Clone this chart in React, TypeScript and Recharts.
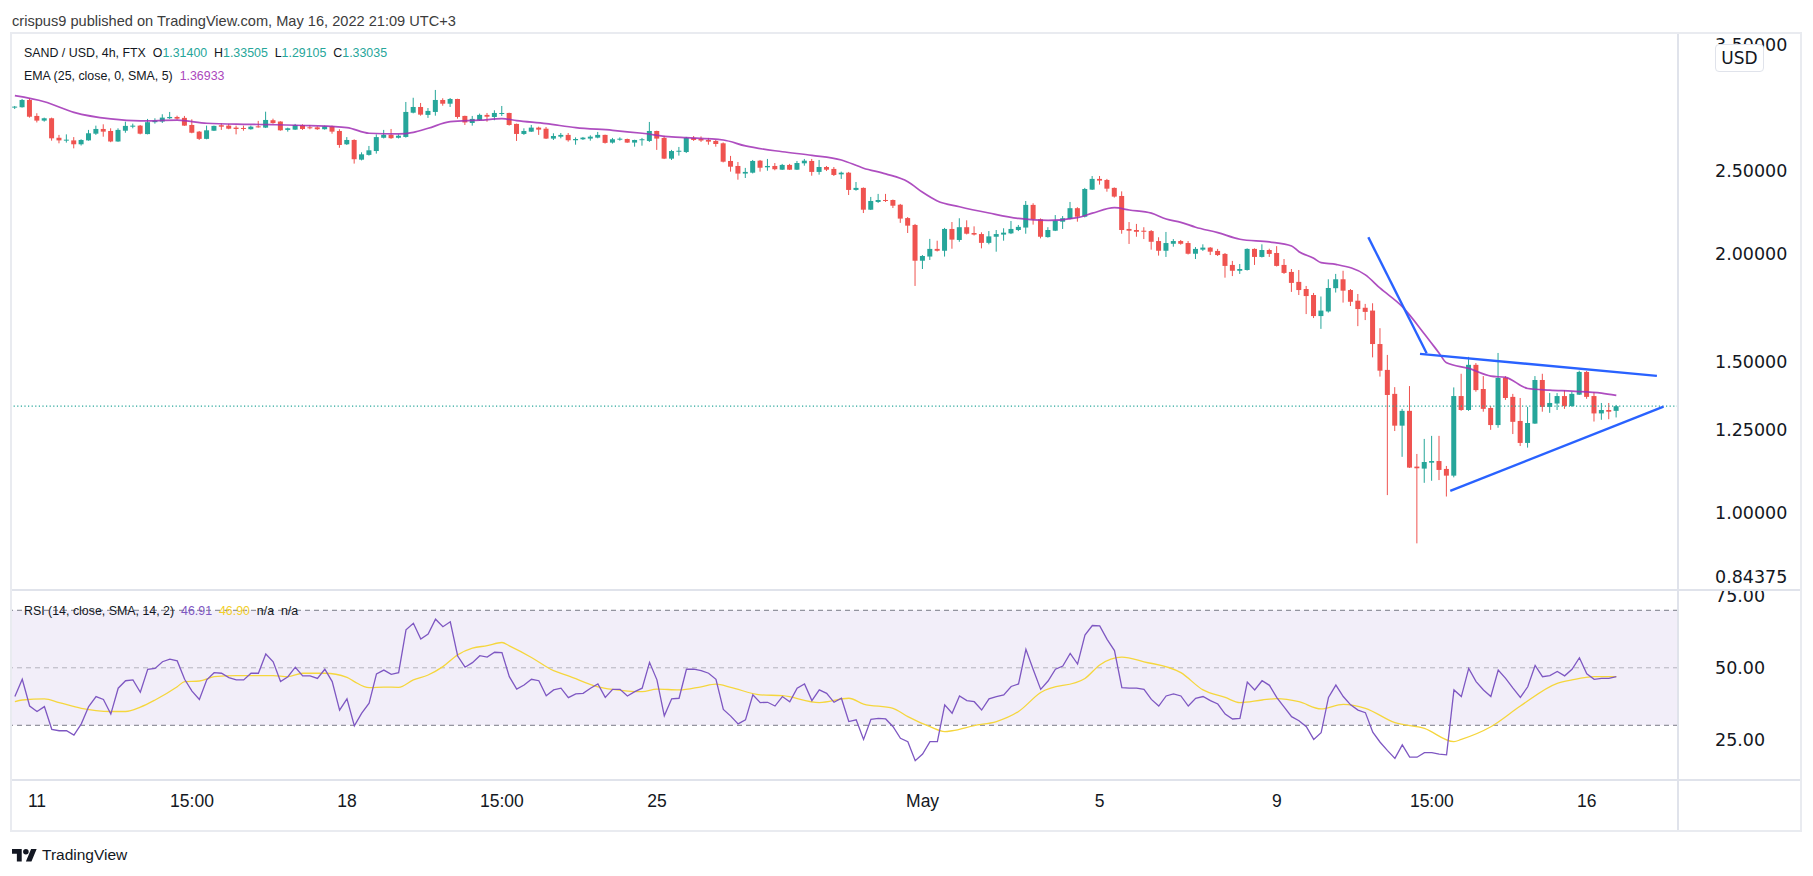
import React from 'react';
import { ComposedChart, Bar, Line, XAxis, YAxis, ReferenceLine, ReferenceArea } from 'recharts';

// ---------- data (4h candles, index 0 = Apr 11 00:00) ----------
const FIRST_BAR = -3;
const opens = [
  2.956, 2.959, 3.017, 2.891, 2.855, 2.873, 2.727, 2.706, 2.708, 2.680,
  2.708, 2.757, 2.792, 2.777, 2.700, 2.779, 2.809, 2.817, 2.754, 2.843,
  2.848, 2.873, 2.883, 2.876, 2.822, 2.772, 2.719, 2.779, 2.820, 2.817,
  2.802, 2.797, 2.790, 2.809, 2.802, 2.858, 2.848, 2.785, 2.787, 2.822,
  2.804, 2.804, 2.790, 2.812, 2.777, 2.680, 2.711, 2.572, 2.605, 2.632,
  2.727, 2.749, 2.727, 2.733, 2.916, 2.961, 2.899, 2.922, 3.017, 2.987,
  3.025, 2.891, 2.837, 2.858, 2.899, 2.883, 2.906, 2.914, 2.830, 2.755,
  2.772, 2.802, 2.794, 2.721, 2.735, 2.748, 2.709, 2.716, 2.721, 2.728,
  2.748, 2.692, 2.713, 2.718, 2.692, 2.709, 2.704, 2.777, 2.726, 2.579,
  2.627, 2.625, 2.726, 2.718, 2.711, 2.704, 2.687, 2.563, 2.529, 2.478,
  2.484, 2.565, 2.520, 2.529, 2.504, 2.536, 2.504, 2.547, 2.563, 2.489,
  2.522, 2.509, 2.473, 2.484, 2.372, 2.385, 2.250, 2.297, 2.309, 2.309,
  2.280, 2.200, 2.160, 1.963, 1.985, 2.026, 2.016, 2.137, 2.075, 2.147,
  2.114, 2.108, 2.059, 2.093, 2.105, 2.112, 2.131, 2.145, 2.279, 2.193,
  2.091, 2.127, 2.179, 2.195, 2.259, 2.208, 2.374, 2.443, 2.436, 2.385,
  2.334, 2.137, 2.131, 2.127, 2.125, 2.069, 2.016, 2.054, 2.069, 2.058,
  2.000, 2.022, 2.033, 2.015, 1.999, 1.941, 1.911, 1.915, 2.026, 1.983,
  2.020, 2.004, 1.941, 1.905, 1.855, 1.820, 1.791, 1.693, 1.714, 1.824,
  1.868, 1.815, 1.764, 1.731, 1.718, 1.571, 1.466, 1.375, 1.263, 1.314,
  1.132, 1.126, 1.144, 1.149, 1.125, 1.105, 1.367, 1.317, 1.486, 1.393,
  1.324, 1.265, 1.435, 1.364, 1.279, 1.206, 1.270, 1.427, 1.328, 1.340,
  1.367, 1.331, 1.372, 1.458, 1.367, 1.305, 1.317, 1.314,
];
const highs = [
  2.969, 3.025, 3.031, 2.912, 2.878, 2.878, 2.748, 2.752, 2.732, 2.716,
  2.785, 2.817, 2.827, 2.797, 2.797, 2.847, 2.832, 2.822, 2.868, 2.873,
  2.904, 2.922, 2.893, 2.891, 2.865, 2.777, 2.817, 2.817, 2.835, 2.830,
  2.817, 2.817, 2.817, 2.853, 2.924, 2.870, 2.850, 2.802, 2.830, 2.827,
  2.822, 2.812, 2.817, 2.817, 2.790, 2.732, 2.716, 2.623, 2.668, 2.752,
  2.785, 2.792, 2.752, 3.001, 3.035, 2.993, 2.953, 3.099, 3.031, 3.033,
  3.027, 2.893, 2.891, 2.909, 2.914, 2.935, 2.969, 2.916, 2.832, 2.797,
  2.822, 2.809, 2.807, 2.760, 2.762, 2.762, 2.730, 2.733, 2.745, 2.770,
  2.750, 2.726, 2.730, 2.721, 2.713, 2.726, 2.845, 2.779, 2.742, 2.640,
  2.661, 2.733, 2.740, 2.737, 2.726, 2.711, 2.693, 2.598, 2.556, 2.516,
  2.570, 2.570, 2.577, 2.549, 2.543, 2.543, 2.563, 2.577, 2.577, 2.570,
  2.529, 2.522, 2.491, 2.489, 2.423, 2.388, 2.328, 2.347, 2.347, 2.312,
  2.285, 2.206, 2.166, 1.993, 2.081, 2.071, 2.143, 2.177, 2.199, 2.187,
  2.152, 2.118, 2.125, 2.131, 2.141, 2.183, 2.160, 2.303, 2.289, 2.198,
  2.147, 2.218, 2.212, 2.297, 2.265, 2.385, 2.462, 2.462, 2.443, 2.388,
  2.363, 2.177, 2.166, 2.147, 2.131, 2.090, 2.120, 2.080, 2.075, 2.069,
  2.036, 2.051, 2.036, 2.026, 2.004, 1.962, 1.946, 2.029, 2.029, 2.051,
  2.027, 2.041, 1.972, 1.920, 1.915, 1.835, 1.801, 1.784, 1.868, 1.895,
  1.911, 1.820, 1.796, 1.749, 1.752, 1.639, 1.526, 1.400, 1.321, 1.404,
  1.171, 1.219, 1.229, 1.229, 1.134, 1.399, 1.451, 1.518, 1.493, 1.442,
  1.331, 1.534, 1.442, 1.375, 1.360, 1.328, 1.442, 1.451, 1.378, 1.378,
  1.389, 1.382, 1.463, 1.462, 1.382, 1.342, 1.342, 1.33505,
];
const lows = [
  2.945, 2.956, 2.878, 2.841, 2.847, 2.706, 2.687, 2.692, 2.651, 2.671,
  2.706, 2.748, 2.735, 2.695, 2.698, 2.764, 2.797, 2.752, 2.752, 2.832,
  2.837, 2.868, 2.862, 2.815, 2.760, 2.711, 2.716, 2.777, 2.785, 2.790,
  2.752, 2.779, 2.787, 2.802, 2.799, 2.832, 2.779, 2.772, 2.785, 2.785,
  2.790, 2.785, 2.787, 2.757, 2.655, 2.675, 2.545, 2.567, 2.600, 2.614,
  2.722, 2.719, 2.722, 2.728, 2.911, 2.893, 2.876, 2.893, 2.971, 2.961,
  2.870, 2.822, 2.817, 2.853, 2.847, 2.858, 2.891, 2.817, 2.704, 2.748,
  2.770, 2.748, 2.718, 2.711, 2.723, 2.699, 2.677, 2.711, 2.706, 2.723,
  2.685, 2.685, 2.706, 2.690, 2.663, 2.670, 2.697, 2.640, 2.576, 2.570,
  2.600, 2.618, 2.704, 2.697, 2.677, 2.663, 2.553, 2.491, 2.438, 2.449,
  2.479, 2.491, 2.497, 2.500, 2.502, 2.502, 2.502, 2.531, 2.464, 2.471,
  2.495, 2.462, 2.443, 2.340, 2.367, 2.230, 2.248, 2.291, 2.297, 2.260,
  2.172, 2.114, 1.835, 1.920, 1.967, 2.012, 1.985, 2.027, 2.065, 2.106,
  2.100, 2.029, 2.051, 2.011, 2.071, 2.108, 2.125, 2.110, 2.162, 2.084,
  2.088, 2.125, 2.137, 2.192, 2.179, 2.204, 2.372, 2.406, 2.361, 2.324,
  2.110, 2.053, 2.093, 2.080, 2.022, 1.990, 1.983, 2.038, 2.049, 1.996,
  1.972, 2.015, 1.993, 1.988, 1.876, 1.884, 1.895, 1.912, 1.941, 1.980,
  1.983, 1.933, 1.895, 1.806, 1.791, 1.702, 1.684, 1.636, 1.709, 1.803,
  1.755, 1.739, 1.648, 1.675, 1.516, 1.440, 1.049, 1.245, 1.162, 1.128,
  0.922, 1.084, 1.090, 1.092, 1.045, 1.100, 1.314, 1.314, 1.383, 1.311,
  1.249, 1.256, 1.353, 1.235, 1.196, 1.191, 1.269, 1.311, 1.307, 1.317,
  1.321, 1.328, 1.371, 1.357, 1.277, 1.283, 1.285, 1.29105,
];
const closes = [
  2.959, 3.017, 2.885, 2.855, 2.873, 2.723, 2.708, 2.711, 2.680, 2.711,
  2.760, 2.792, 2.772, 2.700, 2.785, 2.815, 2.817, 2.757, 2.843, 2.855,
  2.878, 2.883, 2.870, 2.817, 2.764, 2.719, 2.782, 2.815, 2.809, 2.794,
  2.792, 2.792, 2.809, 2.804, 2.860, 2.837, 2.782, 2.797, 2.822, 2.792,
  2.797, 2.790, 2.812, 2.772, 2.675, 2.711, 2.575, 2.609, 2.637, 2.732,
  2.749, 2.724, 2.742, 2.922, 2.961, 2.901, 2.930, 3.017, 2.987, 3.025,
  2.883, 2.841, 2.868, 2.899, 2.885, 2.914, 2.911, 2.822, 2.755, 2.777,
  2.802, 2.787, 2.721, 2.740, 2.748, 2.709, 2.718, 2.728, 2.735, 2.748,
  2.690, 2.716, 2.718, 2.692, 2.711, 2.713, 2.777, 2.721, 2.579, 2.632,
  2.632, 2.726, 2.711, 2.707, 2.699, 2.682, 2.558, 2.524, 2.478, 2.489,
  2.563, 2.517, 2.529, 2.507, 2.536, 2.504, 2.549, 2.565, 2.489, 2.522,
  2.504, 2.469, 2.484, 2.372, 2.385, 2.250, 2.303, 2.309, 2.303, 2.274,
  2.197, 2.156, 1.963, 1.988, 2.026, 2.016, 2.137, 2.077, 2.147, 2.110,
  2.105, 2.059, 2.095, 2.108, 2.116, 2.137, 2.149, 2.279, 2.193, 2.093,
  2.131, 2.185, 2.199, 2.259, 2.208, 2.378, 2.443, 2.432, 2.380, 2.330,
  2.131, 2.127, 2.121, 2.121, 2.065, 2.016, 2.058, 2.069, 2.054, 2.000,
  2.026, 2.033, 2.011, 1.993, 1.936, 1.911, 1.920, 2.026, 1.983, 2.020,
  1.999, 1.936, 1.900, 1.850, 1.815, 1.786, 1.693, 1.718, 1.825, 1.868,
  1.812, 1.759, 1.725, 1.712, 1.571, 1.463, 1.371, 1.263, 1.314, 1.129,
  1.127, 1.146, 1.149, 1.122, 1.105, 1.367, 1.317, 1.486, 1.389, 1.321,
  1.265, 1.435, 1.360, 1.276, 1.206, 1.272, 1.427, 1.328, 1.342, 1.367,
  1.331, 1.375, 1.458, 1.364, 1.305, 1.317, 1.311, 1.33035,
];
const rsiValues = [
  40.0, 46.0, 36.7, 34.8, 36.5, 28.6, 28.1, 28.1, 26.6, 30.5,
  36.5, 40.0, 39.0, 33.9, 42.9, 45.5, 45.8, 41.5, 49.5, 49.8,
  52.1, 53.0, 52.4, 46.0, 41.9, 39.0, 45.8, 48.3, 48.1, 46.6,
  45.8, 45.8, 48.1, 48.1, 54.8, 52.1, 45.2, 46.9, 50.2, 47.2,
  47.2, 46.3, 49.5, 45.2, 35.3, 39.2, 29.8, 34.2, 37.7, 47.9,
  49.2, 47.7, 48.3, 63.2, 65.5, 60.0, 61.7, 66.9, 64.3, 66.0,
  54.1, 50.2, 51.8, 54.2, 53.7, 55.4, 55.3, 46.9, 42.6, 44.0,
  46.0, 45.5, 40.3, 42.3, 42.9, 39.6, 40.9, 41.1, 42.9, 44.4,
  39.7, 42.5, 42.5, 40.2, 41.7, 42.9, 51.9, 45.8, 33.3, 39.2,
  39.4, 49.5, 49.5, 49.0, 48.1, 46.0, 35.5, 33.2, 30.5, 31.9,
  40.6, 37.9, 38.0, 36.7, 40.0, 38.2, 42.9, 44.4, 38.6, 42.3,
  41.1, 38.0, 39.4, 31.3, 31.9, 25.1, 32.1, 32.4, 32.2, 29.5,
  25.5, 24.3, 17.7, 20.0, 24.3, 24.3, 37.1, 34.2, 40.2, 38.6,
  38.2, 35.3, 39.2, 40.0, 40.6, 43.5, 44.4, 56.4, 49.3, 42.5,
  45.4, 49.5, 50.6, 55.0, 51.3, 61.4, 64.7, 64.6, 59.9, 56.0,
  43.1, 42.9, 42.9, 42.5, 39.0, 36.7, 40.2, 40.9, 40.2, 36.7,
  39.4, 40.0, 38.6, 37.4, 33.9, 32.2, 32.4, 45.0, 42.3, 45.5,
  43.9, 39.6, 36.3, 33.0, 31.6, 29.5, 25.1, 27.4, 39.7, 44.0,
  40.0, 37.1, 35.3, 34.4, 27.6, 24.1, 21.2, 18.5, 23.2, 18.9,
  18.9, 20.5, 20.5, 20.0, 19.7, 42.3, 40.0, 49.8, 45.2, 42.3,
  40.0, 49.2, 46.3, 42.9, 39.7, 43.4, 50.8, 46.9, 47.3, 48.7,
  47.2, 49.5, 53.5, 47.9, 46.0, 46.3, 46.3, 46.91,
];
// EMA(25) read at selected candles
const emaAt = [
  -3, 1, 5, 10, 14, 19, 23, 28, 32, 37, 42, 45, 49, 51, 53, 56, 60, 63, 65, 69,
  73, 78, 82, 86, 88, 93, 96, 101, 105, 109, 112, 115, 118, 120, 122, 125, 129, 133, 137, 141,
  143, 146, 148, 151, 153, 155, 157, 160, 163, 167, 170, 171, 173, 174, 176, 180, 182, 185, 188, 190,
  191, 194, 197, 199, 202, 205, 208, 212, 214,
];
const emaValues = [
  3.052, 3.003, 2.919, 2.868, 2.853, 2.858, 2.835, 2.827, 2.824, 2.817, 2.802, 2.760, 2.755, 2.767, 2.797, 2.847, 2.858, 2.870, 2.855, 2.832,
  2.802, 2.782, 2.760, 2.733, 2.728, 2.711, 2.668, 2.627, 2.602, 2.570, 2.514, 2.476, 2.425, 2.357, 2.303, 2.268, 2.230, 2.198, 2.187, 2.203,
  2.229, 2.262, 2.248, 2.229, 2.195, 2.175, 2.147, 2.116, 2.079, 2.064, 2.042, 2.011, 1.976, 1.953, 1.944, 1.890, 1.824, 1.736, 1.614, 1.533,
  1.494, 1.472, 1.442, 1.437, 1.395, 1.389, 1.385, 1.378, 1.36933,
];
// RSI-based MA read at selected candles
const rsiMaAt = [
  -3, -2, 1, 3, 6, 8, 10, 12, 14, 16, 19, 20, 22, 24, 27, 30, 32, 34, 36, 39,
  42, 43, 45, 47, 49, 51, 53, 55, 57, 59, 61, 63, 64, 67, 70, 72, 76, 78, 82, 84,
  87, 90, 92, 94, 98, 101, 106, 110, 112, 116, 118, 121, 123, 124, 127, 130, 133, 136, 142, 144,
  147, 150, 155, 158, 161, 163, 166, 168, 171, 174, 177, 180, 184, 188, 192, 193, 197, 201, 206, 208,
  211, 214,
];
const rsiMaValues = [
  38.2, 38.8, 39.2, 37.9, 35.9, 35.1, 34.8, 34.8, 36.3, 38.8, 43.4, 45.2, 45.4, 46.9, 47.3, 47.3, 47.3, 46.9, 48.1, 48.1,
  46.7, 45.2, 43.1, 43.3, 43.2, 45.8, 47.5, 50.4, 54.5, 56.8, 57.7, 58.8, 57.6, 53.6, 49.0, 47.2, 43.4, 42.5, 41.7, 42.6,
  42.3, 43.4, 44.3, 43.2, 40.6, 40.3, 37.9, 39.4, 37.4, 35.9, 33.0, 29.5, 27.8, 28.1, 29.9, 31.3, 34.8, 41.4, 46.3, 51.0,
  53.7, 52.1, 48.3, 42.3, 39.7, 37.9, 38.8, 39.3, 38.2, 35.7, 37.3, 35.9, 30.9, 28.9, 24.3, 25.1, 29.5, 36.7, 44.6, 45.8,
  46.9, 46.90,
];
const priceTicks = [0.84375, 1, 1.25, 1.5, 2, 2.5, 3.5];
const rsiTicks = [25, 50, 75];
const rsiBands = [30, 50, 70];
const timeTickAt = [0, 21, 42, 63, 84, 120, 144, 168, 189, 210];
const timeTickLabels = ['11', '15:00', '18', '15:00', '25', 'May', '5', '9', '15:00', '16'];
// drawn trend lines (candle index, price)
const trendFromAt = [180.4, 187.4, 191.5];
const trendFromPrice = [2.09, 1.53, 1.061];
const trendToAt = [188.3, 219.5, 220.4];
const trendToPrice = [1.533, 1.443, 1.329];

const lastOpen = 1.314;
const lastHigh = 1.33505;
const lastLow = 1.29105;
const lastClose = 1.33035;
const lastEma = 1.36933;
const lastRsi = 46.91;
const lastRsiMa = 46.9;

// ---------- derived tables ----------
const candles = opens.map((o, k) => {
  const c = closes[k];
  return {
    i: FIRST_BAR + k,
    o,
    c,
    wick: [lows[k], highs[k]],
    body: [Math.min(o, c), Math.max(o, c)],
    ema: null as number | null,
  };
});
emaAt.forEach((at, j) => {
  candles[at - FIRST_BAR].ema = emaValues[j];
});
const rsiRows = rsiValues.map((v, k) => ({ i: FIRST_BAR + k, rsi: v, ma: null as number | null }));
rsiMaAt.forEach((at, j) => {
  rsiRows[at - FIRST_BAR].ma = rsiMaValues[j];
});

// ---------- styling ----------
const UP = '#26a69a';
const DOWN = '#ef5350';
const TEXT = '#131722';
const GRID = '#e0e3eb';
const X_MIN = -3.39;
const X_MAX = 222.36;
const PRICE_MIN = 0.8139;
const PRICE_MAX = 3.599;
const RSI_MIN = 10.97;
const RSI_MAX = 77.06;
const AXIS_FONT = "'DejaVu Sans', sans-serif";
const UI_FONT = "'Liberation Sans', Arial, sans-serif";
const AXIS_SIZE = 17.5;

const CandleRect = (props: any) => {
  const { x, y, width, height, payload } = props;
  if (x == null || y == null) return null;
  const top = height < 0 ? y + height : y;
  const h = Math.max(Math.abs(height), 1);
  return <rect x={x} y={top} width={width} height={h} fill={payload.c >= payload.o ? UP : DOWN} />;
};

const PriceTick = (props: any) => (
  <text x={props.x} y={props.y} dy="0.36em" textAnchor="start" fontSize={AXIS_SIZE} fontFamily={AXIS_FONT} fill={TEXT}>
    {Number(props.payload.value).toFixed(5)}
  </text>
);
const RsiTick = (props: any) => (
  <text x={props.x} y={props.y} dy="0.36em" textAnchor="start" fontSize={AXIS_SIZE} fontFamily={AXIS_FONT} fill={TEXT}>
    {Number(props.payload.value).toFixed(2)}
  </text>
);
const TimeTick = (props: any) => {
  const k = timeTickAt.indexOf(props.payload.value);
  return (
    <text x={props.x} y={props.y} dy="0.36em" textAnchor="middle" fontSize={17.5} fontFamily={UI_FONT} fill={TEXT}>
      {k >= 0 ? timeTickLabels[k] : ''}
    </text>
  );
};

const abs = (l: number, t: number, extra: React.CSSProperties = {}): React.CSSProperties => ({
  position: 'absolute',
  left: l,
  top: t,
  ...extra,
});

const legendStyle: React.CSSProperties = {
  fontFamily: UI_FONT,
  fontSize: 12.4,
  color: TEXT,
  lineHeight: '18px',
  whiteSpace: 'pre',
};

export default function App() {
  return (
    <div style={{ position: 'relative', width: 1813, height: 876, background: '#ffffff', overflow: 'hidden' }}>
      <style>{'body{margin:0;background:#fff}'}</style>

      {/* header */}
      <div style={abs(12, 11, { fontFamily: UI_FONT, fontSize: 14.6, color: '#3c3c3c', lineHeight: '20px', whiteSpace: 'nowrap' })}>
        crispus9 published on TradingView.com, May 16, 2022 21:09 UTC+3
      </div>

      {/* frame */}
      <div style={abs(10, 32, { width: 1792, height: 800, border: '2px solid #e9ebf0', boxSizing: 'border-box' })} />

      {/* price pane */}
      <div style={abs(12, 34)}>
        <ComposedChart width={1788} height={556} data={candles} margin={{ top: 0, right: 0, bottom: 0, left: 0 }}>
          <XAxis xAxisId="w" type="number" dataKey="i" domain={[X_MIN, X_MAX]} allowDataOverflow hide />
          <XAxis xAxisId="b" type="number" dataKey="i" domain={[X_MIN, X_MAX]} allowDataOverflow hide />
          <YAxis
            yAxisId="p"
            orientation="right"
            scale="log"
            domain={[PRICE_MIN, PRICE_MAX]}
            allowDataOverflow
            ticks={priceTicks}
            interval={0}
            width={122}
            axisLine={false}
            tickLine={false}
            tickSize={0}
            tickMargin={37}
            tick={PriceTick}
          />
          <ReferenceLine xAxisId="w" yAxisId="p" y={lastClose} stroke={UP} strokeWidth={1.2} strokeDasharray="1.2 2.4" />
          <Bar xAxisId="w" yAxisId="p" dataKey="wick" barSize={1} shape={CandleRect} isAnimationActive={false} />
          <Bar xAxisId="b" yAxisId="p" dataKey="body" barSize={5} minPointSize={1} shape={CandleRect} isAnimationActive={false} />
          <Line
            xAxisId="w"
            yAxisId="p"
            dataKey="ema"
            type="monotone"
            connectNulls
            dot={false}
            activeDot={false}
            stroke="#a02fb5"
            strokeOpacity={0.85}
            strokeWidth={1.7}
            isAnimationActive={false}
          />
          {trendFromAt.map((x1, k) => (
            <ReferenceLine
              key={'t' + k}
              xAxisId="w"
              yAxisId="p"
              segment={[
                { x: x1, y: trendFromPrice[k] },
                { x: trendToAt[k], y: trendToPrice[k] },
              ]}
              stroke="#2962ff"
              strokeWidth={2.4}
            />
          ))}
        </ComposedChart>
      </div>

      {/* RSI pane + time axis */}
      <div style={abs(12, 590)}>
        <ComposedChart width={1788} height={240} data={rsiRows} margin={{ top: 0, right: 0, bottom: 0, left: 0 }}>
          <XAxis
            type="number"
            dataKey="i"
            domain={[X_MIN, X_MAX]}
            allowDataOverflow
            ticks={timeTickAt}
            interval={0}
            height={50}
            axisLine={false}
            tickLine={false}
            tickSize={0}
            tickMargin={21}
            tick={TimeTick}
          />
          <YAxis
            orientation="right"
            domain={[RSI_MIN, RSI_MAX]}
            allowDataOverflow
            ticks={rsiTicks}
            interval={0}
            width={122}
            axisLine={false}
            tickLine={false}
            tickSize={0}
            tickMargin={37}
            tick={RsiTick}
          />
          <ReferenceArea y1={rsiBands[0]} y2={rsiBands[2]} fill="#7e57c2" fillOpacity={0.1} stroke="none" />
          <ReferenceLine y={rsiBands[2]} stroke="#787b86" strokeDasharray="5 4" />
          <ReferenceLine y={rsiBands[1]} stroke="#787b86" strokeOpacity={0.5} strokeDasharray="5 4" />
          <ReferenceLine y={rsiBands[0]} stroke="#787b86" strokeDasharray="5 4" />
          <Line dataKey="ma" type="monotone" connectNulls dot={false} activeDot={false} stroke="#f5d63d" strokeWidth={1.3} isAnimationActive={false} />
          <Line dataKey="rsi" type="linear" dot={false} activeDot={false} stroke="#7e57c2" strokeWidth={1.3} isAnimationActive={false} />
        </ComposedChart>
      </div>

      {/* pane dividers */}
      <div style={abs(12, 589, { width: 1788, height: 2, background: GRID })} />
      <div style={abs(12, 779, { width: 1788, height: 2, background: GRID })} />
      <div style={abs(1677, 34, { width: 2, height: 796, background: GRID })} />

      {/* USD badge */}
      <div
        style={abs(1715, 44, {
          width: 49,
          height: 28,
          boxSizing: 'border-box',
          border: '1px solid #e0e3eb',
          borderRadius: 4,
          background: '#fff',
          fontFamily: AXIS_FONT,
          fontSize: 17,
          color: TEXT,
          lineHeight: '26px',
          textAlign: 'center',
        })}
      >
        USD
      </div>

      {/* legends */}
      <div style={abs(24, 44, legendStyle)}>
        {'SAND / USD, 4h, FTX  O'}
        <span style={{ color: UP }}>{lastOpen.toFixed(5)}</span>
        {'  H'}
        <span style={{ color: UP }}>{lastHigh.toFixed(5)}</span>
        {'  L'}
        <span style={{ color: UP }}>{lastLow.toFixed(5)}</span>
        {'  C'}
        <span style={{ color: UP }}>{lastClose.toFixed(5)}</span>
      </div>
      <div style={abs(24, 67, legendStyle)}>
        {'EMA (25, close, 0, SMA, 5)  '}
        <span style={{ color: '#ab47bc' }}>{lastEma.toFixed(5)}</span>
      </div>
      <div style={abs(24, 602, legendStyle)}>
        {'RSI (14, close, SMA, 14, 2)  '}
        <span style={{ color: '#7e57c2' }}>{lastRsi.toFixed(2)}</span>
        {'  '}
        <span style={{ color: '#f2cf2a' }}>{lastRsiMa.toFixed(2)}</span>
        {'  n/a  n/a'}
      </div>

      {/* footer logo */}
      <svg style={abs(12, 849)} width={25} height={12.5} viewBox="0 4 36 18">
        <path d="M14 22H7V11H0V4h14v18zM28 22h-8l7.5-18h8L28 22z" fill={TEXT} />
        <circle cx="20" cy="8" r="4" fill={TEXT} />
      </svg>
      <div style={abs(42, 846, { fontFamily: UI_FONT, fontSize: 15.5, color: TEXT, lineHeight: '18px' })}>TradingView</div>
    </div>
  );
}
